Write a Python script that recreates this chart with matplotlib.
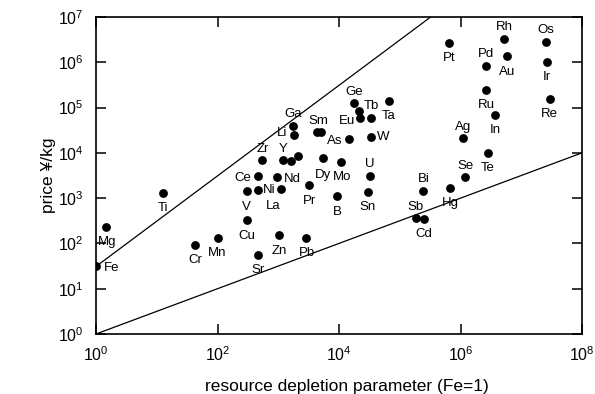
import numpy as np
import matplotlib
matplotlib.use("Agg")
import matplotlib.pyplot as plt

# element symbols ("" = unlabelled point)
elements = ["Fe", "Mg", "Ti", "Cr", "Mn", "Cu", "Zn", "Pb", "Sr", "V",
            "Ni", "La", "Ce", "Nd", "Zr", "Y", "", "", "Li", "Ga",
            "Sm", "", "Dy", "Mo", "Pr", "B", "Sn", "U", "As", "W",
            "Eu", "", "Tb", "Ge", "Ta", "Pt", "Rh", "Os", "Au", "Pd",
            "Ir", "Ru", "Re", "In", "Ag", "Te", "Se", "Bi", "Hg", "Sb", "Cd"]

# resource depletion parameter (Fe=1)
depletion = [1, 1.46, 12.6, 42.7, 100, 302, 1023, 2884, 457, 302,
             468, 1122, 457, 955, 550, 1175, 1622, 2138, 1820, 1778,
             4266, 5012, 5495, 10715, 3236, 9333, 29512, 32359, 14454, 33113,
             22387, 33113, 21380, 17783, 66069, 6.46e5, 5.25e6, 2.57e7, 5.89e6, 2.63e6,
             2.63e7, 2.63e6, 2.95e7, 3.72e6, 1.10e6, 2.82e6, 1.20e6, 2.45e5, 6.61e5, 1.82e5, 2.51e5]

# price yen/kg
price = [31, 229, 1290, 91, 129, 331, 151, 132, 55, 1445,
         1514, 1622, 3162, 2951, 6918, 6918, 6761, 8710, 24547, 38905,
         29512, 29512, 7762, 6166, 1950, 1096, 1349, 3162, 19953, 22909,
         57544, 57544, 85114, 123027, 138038, 2.69e6, 3.31e6, 2.82e6, 1.38e6, 8.13e5,
         1.0e6, 2.45e5, 1.51e5, 67608, 21380, 9772, 2951, 1445, 1660, 372, 355]

# label offsets in pixels (dx, dy)
offsets = {"Fe": (16, -2), "Mg": (1, -15), "Ti": (0, -15), "Cr": (0, -15),
           "Mn": (0, -15), "Cu": (0, -16), "Zn": (0, -16), "Pb": (1, -15),
           "Sr": (0, -15), "V": (0, -16), "Ni": (11, 0), "La": (-8, -17),
           "Ce": (-15, -2), "Nd": (15, -2), "Zr": (0, 11), "Y": (1, 11),
           "Li": (-12, 2), "Ga": (0, 12), "Sm": (2, 11), "Dy": (0, -17),
           "Mo": (1, -15), "Pr": (0, -16), "B": (0, -16), "Sn": (0, -15),
           "U": (0, 12), "As": (-14, -2), "W": (13, 0), "Eu": (-13, -3),
           "Tb": (12, 5), "Ge": (0, 11), "Ta": (0, -15), "Pt": (0, -15),
           "Rh": (0, 12), "Os": (0, 12), "Au": (0, -16), "Pd": (0, 12),
           "Ir": (0, -15), "Ru": (0, -15), "Re": (0, -15), "In": (0, -15),
           "Ag": (0, 11), "Te": (0, -15), "Se": (0, 11), "Bi": (0, 12),
           "Hg": (1, -15), "Sb": (0, 11), "Cd": (0, -15)}

plt.rcParams['font.family'] = ['Liberation Sans', 'DejaVu Sans']

fig = plt.figure(figsize=(5.95, 3.94), dpi=100)
ax = fig.add_axes([96 / 595, 1 - 334 / 394, 486 / 595, 317 / 394])

# guide lines: price = Fe price * x, and price = sqrt(x)
xx = np.array([1, 1e8])
ax.plot(xx, price[0] * xx, color='black', lw=0.9)
ax.plot(xx, np.sqrt(xx), color='black', lw=0.9)

ax.scatter(depletion, price, s=40, color='black', zorder=3, linewidths=0)

for name, x, y in zip(elements, depletion, price):
    if name:
        ax.annotate(name, (x, y), xytext=offsets[name], textcoords='offset pixels',
                    ha='center', va='center', fontsize=9.5)

ax.set_xscale('log')
ax.set_yscale('log')
ax.set_xlim(1, 1e8)
ax.set_ylim(1, 1e7)
ax.set_xticks([1, 1e2, 1e4, 1e6, 1e8])
ax.set_yticks([10 ** k for k in range(8)])
ax.minorticks_off()
ax.tick_params(direction='in', length=7, width=1.1, top=True, right=True,
               labelsize=11.5)
ax.tick_params(axis='x', pad=8)
ax.tick_params(axis='y', pad=9)
for sp in ax.spines.values():
    sp.set_linewidth(1.2)

ax.set_xlabel('resource depletion parameter (Fe=1)', fontsize=12.5)
ax.set_ylabel('price ¥/kg', fontsize=12.5)
ax.xaxis.set_label_coords((347 - 96) / 486, (334 - 390.5) / 317)
ax.xaxis.label.set_va('baseline')
ax.yaxis.set_label_coords((56 - 96) / 486, 0.5)

fig.savefig('out.png', dpi=100)
